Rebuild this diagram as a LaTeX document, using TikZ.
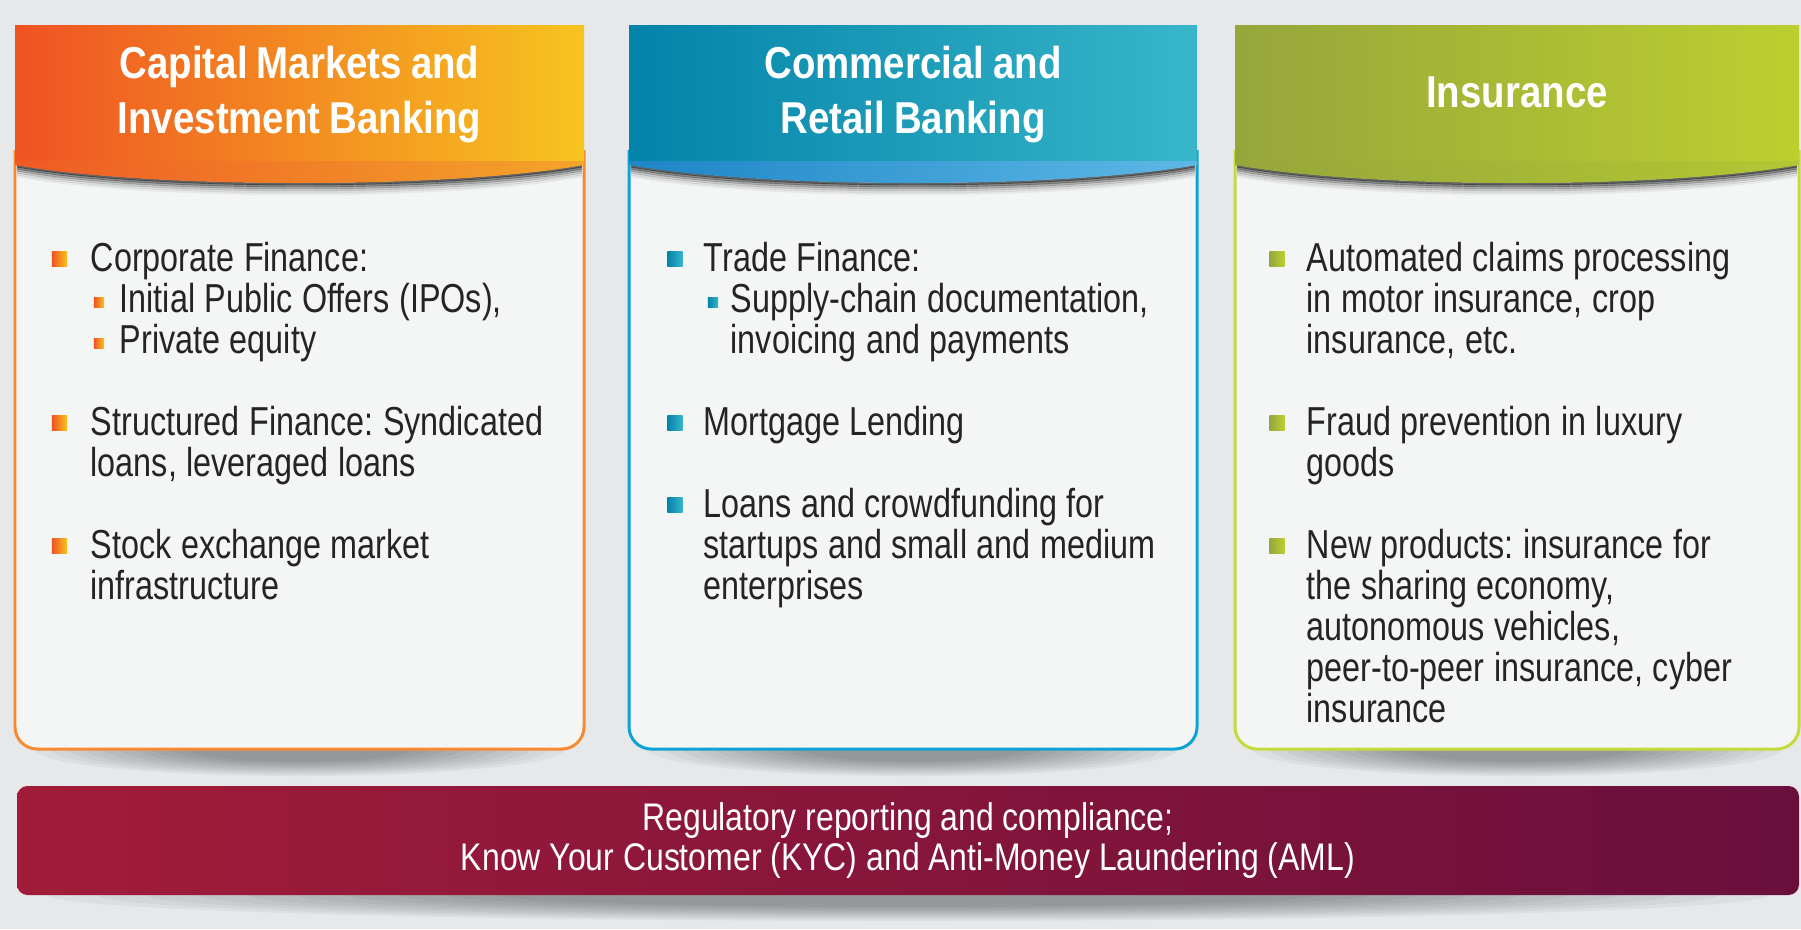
\documentclass[tikz,border=0pt]{standalone}
\usepackage{fontspec}
\setmainfont{Liberation Sans}
\newfontfamily\headfont{Liberation Sans}[FakeStretch=0.86, WordSpace=0.85]
\newfontfamily\bodyfont{Liberation Sans}[FakeStretch=0.8]
\newfontfamily\barfont{Liberation Sans}[FakeStretch=0.83]
\frenchspacing

\definecolor{bgcol}{HTML}{E6E8EA}
\definecolor{boxcol}{HTML}{F4F6F5}
\definecolor{txtcol}{HTML}{262324}
\definecolor{orA}{HTML}{EF5223}
\definecolor{orM}{HTML}{F07E2A}
\definecolor{orB}{HTML}{F7C41F}
\definecolor{orC}{HTML}{EF5A24}
\definecolor{orD}{HTML}{F3A52A}
\definecolor{orLine}{HTML}{F68B33}
\definecolor{blA}{HTML}{0383AA}
\definecolor{blM}{HTML}{129BBA}
\definecolor{blB}{HTML}{38B6C9}
\definecolor{blC}{HTML}{1D86C6}
\definecolor{blD}{HTML}{5EB8E6}
\definecolor{blLine}{HTML}{0BA4D5}
\definecolor{grA}{HTML}{96A63B}
\definecolor{grM}{HTML}{99A93B}
\definecolor{grB}{HTML}{BCCF2F}
\definecolor{grC}{HTML}{97A63A}
\definecolor{grD}{HTML}{B2C733}
\definecolor{grLine}{HTML}{C6DA3C}
\definecolor{barA}{HTML}{A11C39}
\definecolor{barB}{HTML}{6A0F3C}

\tikzset{
  head/.style={text=white, align=center, inner sep=0pt,
    font=\headfont\bfseries\fontsize{12.7}{15.65}\selectfont},
  item/.style={anchor=base west, inner sep=0pt, text width=160pt, align=left,
    text=txtcol, font=\bodyfont\fontsize{11.5}{11.67}\selectfont,
    execute at begin node={\spaceskip=0.235em\relax}},
  bul/.style={minimum size=4.3pt, inner sep=0pt, left color=#1A, right color=#1B},
  subbul/.style={bul=#1, minimum size=2.9pt},
  cardbox/.style={line width=0.85pt, fill=boxcol, rounded corners=6.3pt},
}

\begin{document}
\begin{tikzpicture}[x=0.01cm, y=-0.01cm]
  \fill[bgcol] (0,0) rectangle (1801,929);
  \useasboundingbox (0,0) rectangle (1801,929);

  % soft shadows below cards and bar
  \foreach \cx in {299.5, 913, 1517}
    \foreach \r in {0,...,9}
      \fill[black, opacity=0.04] (\cx,749) ellipse (265-\r*17 and 27-\r*1.6);
  \foreach \r in {0,...,9}
    \fill[black, opacity=0.04] (908,895) ellipse (860-\r*50 and 26-\r*1.6);

  % Capital Markets card
  \draw[cardbox, draw=orLine] (15,150) -- (15,749) -- (584,749) -- (584,150);
  \foreach \d/\o in {1/0.6, 3/0.45, 5/0.3, 7/0.18, 9/0.1, 11/0.05}
    \draw[black, opacity=\o, line width=0.7pt] (17,165+\d) .. controls (150,189+\d) and (450,189+\d) .. (582,165+\d);
  \shade[left color=orA, middle color=orM, right color=orB] (15,25) rectangle (584,162);
  \shade[left color=orC, middle color=orA, right color=orD] (15,161) -- (15,165) .. controls (150,189) and (450,189) .. (584,165) -- (584,161) -- cycle;
  \node[head] (capH) at (299.5,95) {Capital Markets and\\Investment Banking};

  \node[bul=or] (capAb) at (59.5,259) {};
  \node[item] (capA) at (90,271) {Corporate Finance:};
  \node[subbul=or] (capB1b) at (99,302.5) {};
  \node[item] (capB1) at (119,312) {Initial Public Offers (IPOs),};
  \node[subbul=or] (capB2b) at (99,343.5) {};
  \node[item] (capB2) at (119,353) {Private equity};
  \node[bul=or] (capCb) at (59.5,423) {};
  \node[item] (capC) at (90,435) {Structured Finance: Syndicated\\loans, leveraged loans};
  \node[bul=or] (capDb) at (59.5,546) {};
  \node[item] (capD) at (90,558) {Stock exchange market\\infrastructure};

  % Commercial and Retail card
  \draw[cardbox, draw=blLine] (629,150) -- (629,749) -- (1197,749) -- (1197,150);
  \foreach \d/\o in {1/0.6, 3/0.45, 5/0.3, 7/0.18, 9/0.1, 11/0.05}
    \draw[black, opacity=\o, line width=0.7pt] (631,165+\d) .. controls (764,189+\d) and (1062,189+\d) .. (1195,165+\d);
  \shade[left color=blA, middle color=blM, right color=blB] (629,25) rectangle (1197,162);
  \shade[left color=blC, middle color=blC!80!blD, right color=blD] (629,161) -- (629,165) .. controls (764,189) and (1062,189) .. (1197,165) -- (1197,161) -- cycle;
  \node[head] (comH) at (913,95) {Commercial and\\Retail Banking};

  \node[bul=bl] (comAb) at (675,259) {};
  \node[item] (comA) at (703,271) {Trade Finance:};
  \node[subbul=bl] (comBb) at (713,302.5) {};
  \node[item] (comB) at (730,312) {Supply-chain documentation,\\invoicing and payments};
  \node[bul=bl] (comCb) at (675,423) {};
  \node[item] (comC) at (703,435) {Mortgage Lending};
  \node[bul=bl] (comDb) at (675,505) {};
  \node[item] (comD) at (703,517) {Loans and crowdfunding for\\startups and small and medium\\enterprises};

  % Insurance card
  \draw[cardbox, draw=grLine] (1235,150) -- (1235,749) -- (1799,749) -- (1799,150);
  \foreach \d/\o in {1/0.6, 3/0.45, 5/0.3, 7/0.18, 9/0.1, 11/0.05}
    \draw[black, opacity=\o, line width=0.7pt] (1237,165+\d) .. controls (1370,189+\d) and (1664,189+\d) .. (1797,165+\d);
  \shade[left color=grA, middle color=grM, right color=grB] (1235,25) rectangle (1799,162);
  \shade[left color=grC, middle color=grC, right color=grD] (1235,161) -- (1235,165) .. controls (1370,189) and (1664,189) .. (1799,165) -- (1799,161) -- cycle;
  \node[head] (insH) at (1517,92) {Insurance};

  \node[bul=gr] (insAb) at (1277,259) {};
  \node[item] (insA) at (1306,271) {Automated claims processing\\in motor insurance, crop\\insurance, etc.};
  \node[bul=gr] (insBb) at (1277,423) {};
  \node[item] (insB) at (1306,435) {Fraud prevention in luxury\\goods};
  \node[bul=gr] (insCb) at (1277,546) {};
  \node[item] (insC) at (1306,558) {New products: insurance for\\the sharing economy,\\autonomous vehicles,\\peer-to-peer insurance, cyber\\insurance};

  % regulatory bar
  \shade[left color=barA, right color=barB, rounded corners=3pt] (17,786) rectangle (1799,895);
  \node[text=white, align=center, inner sep=0pt, font=\barfont\fontsize{10.95}{11.38}\selectfont] (reg) at (908,841)
    {Regulatory reporting and compliance;\\Know Your Customer (KYC) and Anti-Money Laundering (AML)};
\end{tikzpicture}
\end{document}
